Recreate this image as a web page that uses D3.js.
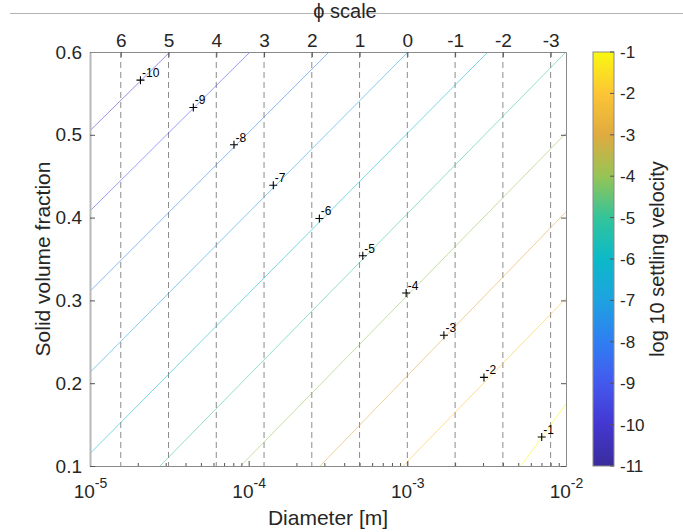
<!DOCTYPE html>
<html>
<head>
<meta charset="utf-8">
<script src="https://cdn.jsdelivr.net/npm/d3@7"></script>
<style>
body { margin: 0; background: #fff; }
svg { font-family: "Liberation Sans", Arial, Helvetica, sans-serif; }
</style>
</head>
<body>
<div id="chart"></div>
<script>
// contour levels, log10 settling velocity
const levels = [-10, -9, -8, -7, -6, -5, -4, -3, -2, -1];
// where each contour enters / leaves the box  [diameter (m), solid fraction]
const lineStart = [[1e-5, 0.505], [1e-5, 0.408], [1e-5, 0.311], [1e-5, 0.213], [1e-5, 0.115],
  [2.76e-5, 0.1], [8.9e-5, 0.1], [2.82e-4, 0.1], [9.4e-4, 0.1], [5.2e-3, 0.1]];
const lineEnd = [[3.19e-5, 0.6], [1.02e-4, 0.6], [3.21e-4, 0.6], [1.01e-3, 0.6], [3.22e-3, 0.6],
  [1e-2, 0.6], [1e-2, 0.502], [1e-2, 0.407], [1e-2, 0.3025], [1e-2, 0.175]];
// clabel marker positions
const labelDiam = [2.08e-5, 4.48e-5, 8.08e-5, 1.43e-4, 2.79e-4, 5.24e-4, 9.83e-4, 1.70e-3, 3.04e-3, 7.03e-3];
const labelFrac = [0.566, 0.533, 0.488, 0.439, 0.399, 0.354, 0.309, 0.258, 0.207, 0.135];

const phiTicks = [6, 5, 4, 3, 2, 1, 0, -1, -2, -3];
const xTicks = [1e-5, 1e-4, 1e-3, 1e-2];
const yTicks = [0.1, 0.2, 0.3, 0.4, 0.5, 0.6];
const cbarTicks = [-1, -2, -3, -4, -5, -6, -7, -8, -9, -10, -11];
const cmapLevels = [-11, -10, -9, -8, -7, -6, -5, -4, -3, -2, -1];
const cmapColors = ['#3a2c9c', '#4337d0', '#4458ee', '#2f7ef2', '#1ea2e0', '#0cb9c8',
  '#33c49a', '#96c455', '#e0aa40', '#fcc535', '#f9f811'];

const width = 683, height = 532;
const margin = {top: 52, right: 566, bottom: 466, left: 90};
const txt = '#262626';

const svg = d3.select('#chart').append('svg')
  .attr('width', width)
  .attr('height', height);

const x = d3.scaleLog().domain([1e-5, 1e-2]).range([margin.left, margin.right]);
const y = d3.scaleLinear().domain([0.1, 0.6]).range([margin.bottom, margin.top]);
const color = d3.scaleLinear().domain(cmapLevels).range(cmapColors);
const phiToD = p => Math.pow(2, -p) / 1000;

svg.append('clipPath').attr('id', 'clip')
  .append('rect')
  .attr('x', margin.left).attr('y', margin.top)
  .attr('width', margin.right - margin.left)
  .attr('height', margin.bottom - margin.top);

// phi grid lines
svg.append('g').selectAll('line')
  .data(phiTicks)
  .join('line')
  .attr('x1', d => x(phiToD(d))).attr('x2', d => x(phiToD(d)))
  .attr('y1', margin.top).attr('y2', margin.bottom)
  .attr('stroke', '#8c8c8c')
  .attr('stroke-width', 1)
  .attr('stroke-dasharray', '6,4');

// contour lines
svg.append('g').attr('clip-path', 'url(#clip)')
  .selectAll('line')
  .data(levels)
  .join('line')
  .attr('x1', (d, i) => x(lineStart[i][0])).attr('y1', (d, i) => y(lineStart[i][1]))
  .attr('x2', (d, i) => x(lineEnd[i][0])).attr('y2', (d, i) => y(lineEnd[i][1]))
  .attr('stroke', d => color(d))
  .attr('stroke-opacity', 0.55)
  .attr('stroke-width', 1);

// contour labels
const lab = svg.append('g').selectAll('g')
  .data(levels)
  .join('g')
  .attr('transform', (d, i) => `translate(${x(labelDiam[i])},${y(labelFrac[i])})`);
lab.append('path').attr('d', 'M-4,0H4M0,-4V4').attr('stroke', '#000').attr('stroke-width', 1.1);
lab.append('text').attr('x', 1.5).attr('y', -3)
  .attr('font-size', 12).attr('fill', '#000')
  .text(d => d);

// axes
const axisStyle = g => {
  g.selectAll('.domain').attr('stroke', '#8a8a8a');
  g.selectAll('.tick line').attr('stroke', '#555');
  g.selectAll('text').attr('fill', txt).attr('font-family', null);
};

// bottom, minor ticks
const minor = x.ticks().filter(v => !xTicks.some(t => Math.abs(t - v) / t < 1e-9));
svg.append('g')
  .attr('transform', `translate(0,${margin.bottom})`)
  .call(d3.axisBottom(x).tickValues(minor).tickSize(-3).tickSizeOuter(0).tickFormat(''))
  .call(axisStyle);
const xAxis = svg.append('g')
  .attr('transform', `translate(0,${margin.bottom})`)
  .call(d3.axisBottom(x).tickValues(xTicks).tickSize(-5).tickSizeOuter(0).tickFormat(''))
  .call(axisStyle);
xAxis.selectAll('.tick text').remove();
const xl = xAxis.selectAll('.tick').append('text')
  .attr('y', 32).attr('text-anchor', 'middle').attr('fill', txt).attr('font-size', 19);
xl.append('tspan').text('10');
xl.append('tspan').attr('dy', -10).attr('font-size', 14)
  .text(d => Math.round(Math.log10(d)));

// left
svg.append('g')
  .attr('transform', `translate(${margin.left},0)`)
  .call(d3.axisLeft(y).tickValues(yTicks).tickSize(-5).tickSizeOuter(0).tickPadding(8).tickFormat(d3.format('.1f')))
  .call(axisStyle)
  .call(g => g.select('.domain').attr('stroke', '#b8b8b8').attr('stroke-width', 2))
  .call(g => g.selectAll('text').attr('font-size', 19));

// right
svg.append('g')
  .attr('transform', `translate(${margin.right},0)`)
  .call(d3.axisRight(y).tickValues(yTicks).tickSize(-5).tickSizeOuter(0).tickFormat(''))
  .call(axisStyle);

// top, phi scale
svg.append('g')
  .attr('transform', `translate(0,${margin.top})`)
  .call(d3.axisTop(x).tickValues(phiTicks.map(phiToD)).tickSize(-5).tickSizeOuter(0).tickPadding(5)
    .tickFormat((d, i) => phiTicks[i]))
  .call(axisStyle)
  .call(g => g.selectAll('text').attr('font-size', 19));

svg.append('line')
  .attr('x1', 10).attr('x2', width).attr('y1', 13.5).attr('y2', 13.5)
  .attr('stroke', '#b4b4b4').attr('stroke-width', 1);
svg.append('text')
  .attr('x', 345).attr('y', 18)
  .attr('text-anchor', 'middle').attr('font-size', 20).attr('fill', txt)
  .text('ϕ scale');

svg.append('text')
  .attr('x', (margin.left + margin.right) / 2).attr('y', 525)
  .attr('text-anchor', 'middle').attr('font-size', 21).attr('fill', txt)
  .text('Diameter [m]');

svg.append('text')
  .attr('transform', `translate(50,${(margin.top + margin.bottom) / 2}) rotate(-90)`)
  .attr('text-anchor', 'middle').attr('font-size', 21).attr('fill', txt)
  .text('Solid volume fraction');

// colorbar
const cb = {x: 593, w: 21};
const cy = d3.scaleLinear().domain([-11, -1]).range([margin.bottom, margin.top]);
const grad = svg.append('defs').append('linearGradient')
  .attr('id', 'cgrad').attr('x1', 0).attr('x2', 0).attr('y1', 1).attr('y2', 0);
grad.selectAll('stop')
  .data(d3.range(-11, -0.99, 0.25))
  .join('stop')
  .attr('offset', d => (d + 11) / 10)
  .attr('stop-color', d => color(d));

svg.append('rect')
  .attr('x', cb.x).attr('y', margin.top)
  .attr('width', cb.w).attr('height', margin.bottom - margin.top)
  .attr('fill', 'url(#cgrad)')
  .attr('stroke', '#8a8a8a').attr('stroke-width', 1);

svg.append('g').selectAll('line')
  .data(cbarTicks)
  .join('line')
  .attr('x1', cb.x + cb.w - 4).attr('x2', cb.x + cb.w)
  .attr('y1', d => cy(d)).attr('y2', d => cy(d))
  .attr('stroke', '#555');

svg.append('g').selectAll('text')
  .data(cbarTicks)
  .join('text')
  .attr('x', cb.x + cb.w + 6).attr('y', d => cy(d)).attr('dy', '0.35em')
  .attr('font-size', 17).attr('fill', txt)
  .text(d => d);

svg.append('text')
  .attr('transform', `translate(664,${(margin.top + margin.bottom) / 2}) rotate(-90)`)
  .attr('text-anchor', 'middle').attr('font-size', 20).attr('fill', txt)
  .text('log 10 settling velocity');
</script>
</body>
</html>
